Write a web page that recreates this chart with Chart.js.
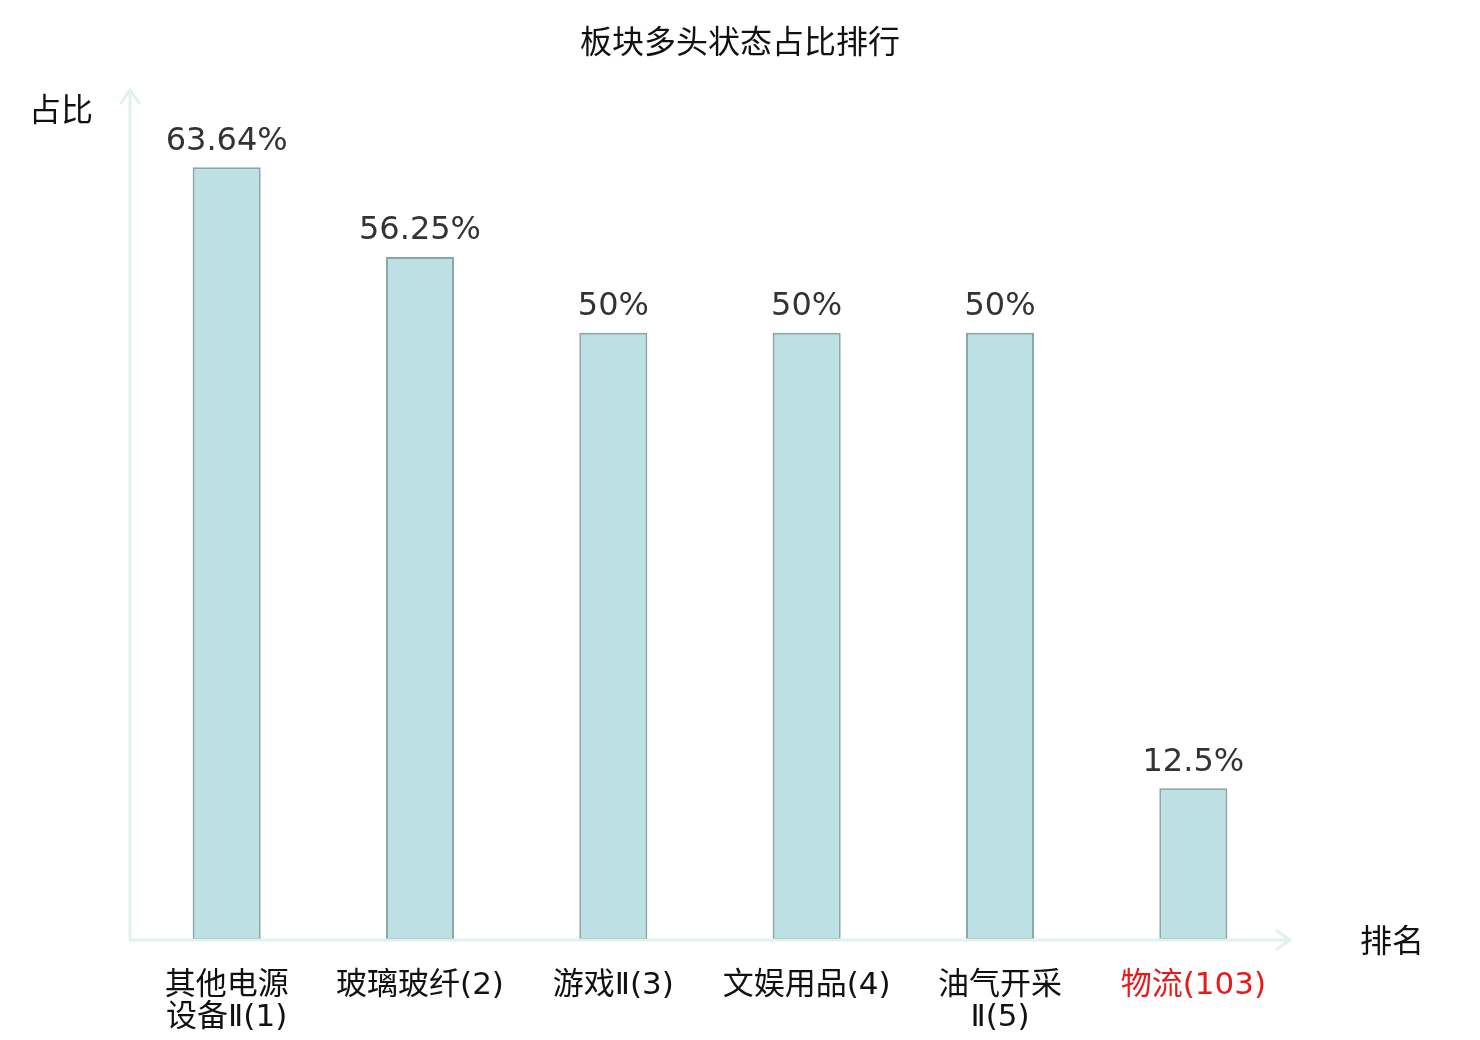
<!DOCTYPE html>
<html>
<head>
<meta charset="utf-8">
<script src="https://cdn.jsdelivr.net/npm/chart.js@4/dist/chart.umd.min.js"></script>
<style>
  html, body { margin: 0; padding: 0; background: #fff; }
  #wrap { width: 1480px; height: 1040px; }
</style>
</head>
<body>
<div id="wrap"><canvas id="c" width="1480" height="1040"></canvas></div>
<script>
// chart data
var categories = [
        ["其他电源", "设备Ⅱ(1)"],
        "玻璃玻纤(2)",
        "游戏Ⅱ(3)",
        "文娱用品(4)",
        ["油气开采", "Ⅱ(5)"],
        "物流(103)"
];
var values = [63.64, 56.25, 50, 50, 50, 12.5];
var valueLabels = ["63.64%", "56.25%", "50%", "50%", "50%", "12.5%"];
var tickColors = ["#111", "#111", "#111", "#111", "#111", "#e8191b"];

var titleText = "板块多头状态占比排行";
var yName = "占比";
var xName = "排名";

var FONT = "'DejaVu Sans', 'Noto Sans CJK SC', sans-serif";
var AXIS_COLOR = "#dff2f0";

// draws title, axis names, axis lines with arrows and value labels
var decorPlugin = {
        id: "decor",
        afterDatasetsDraw: function(chart)
        {
                var ctx = chart.ctx;
                var area = chart.chartArea;
                var meta = chart.getDatasetMeta(0);

                ctx.save();

                // value labels above bars
                ctx.font = "32px " + FONT;
                ctx.fillStyle = "#333";
                ctx.textAlign = "center";
                ctx.textBaseline = "bottom";
                for(var i = 0; i < meta.data.length; i++)
                {
                        var bar = meta.data[i];
                        ctx.fillText(valueLabels[i], bar.x, bar.y - 10);
                }

                // axes
                var x0 = area.left, y0 = area.bottom;
                var yTop = area.top, xEnd = area.right;
                ctx.strokeStyle = AXIS_COLOR;
                ctx.lineWidth = 3;
                ctx.lineCap = "round";
                ctx.beginPath();
                ctx.moveTo(x0, y0);
                ctx.lineTo(x0, yTop);
                ctx.moveTo(x0 - 9, yTop + 13);
                ctx.lineTo(x0, yTop);
                ctx.lineTo(x0 + 9, yTop + 13);
                ctx.moveTo(x0, y0);
                ctx.lineTo(xEnd, y0);
                ctx.moveTo(xEnd - 13, y0 - 9);
                ctx.lineTo(xEnd, y0);
                ctx.lineTo(xEnd - 13, y0 + 9);
                ctx.stroke();

                // title and axis names
                ctx.fillStyle = "#111";
                ctx.font = "32px " + FONT;
                ctx.textBaseline = "middle";
                ctx.textAlign = "center";
                ctx.fillText(titleText, chart.width / 2, 45);
                ctx.textAlign = "right";
                ctx.fillText(yName, x0 - 37, yTop + 23);
                ctx.textAlign = "left";
                ctx.fillText(xName, xEnd + 70, y0 + 4);

                ctx.restore();
        }
};

var chart = new Chart(document.getElementById("c").getContext("2d"), {
        type: "bar",
        data: {
                labels: categories,
                datasets: [{
                        data: values,
                        backgroundColor: "#bce0e3",
                        borderColor: "#8aa6a7",
                        borderWidth: 2,
                        borderSkipped: false,
                        categoryPercentage: 1,
                        barPercentage: 0.352
                }]
        },
        options: {
                responsive: false,
                animation: false,
                layout: { padding: { left: 130, right: 190, top: 90, bottom: 0 } },
                plugins: {
                        legend: { display: false },
                        tooltip: { enabled: false },
                        title: { display: false }
                },
                scales: {
                        x: {
                                grid: { display: false },
                                border: { display: false },
                                ticks: {
                                        padding: 22,
                                        autoSkip: false,
                                        maxRotation: 0,
                                        color: tickColors,
                                        font: { family: FONT, size: 31, lineHeight: 1.03 }
                                },
                                afterFit: function(scale) { scale.height = 100; }
                        },
                        y: {
                                min: 0,
                                max: 70,
                                display: true,
                                grid: { display: false },
                                border: { display: false },
                                ticks: { display: false },
                                afterFit: function(scale) { scale.width = 0; }
                        }
                }
        },
        plugins: [decorPlugin]
});
</script>
</body>
</html>
